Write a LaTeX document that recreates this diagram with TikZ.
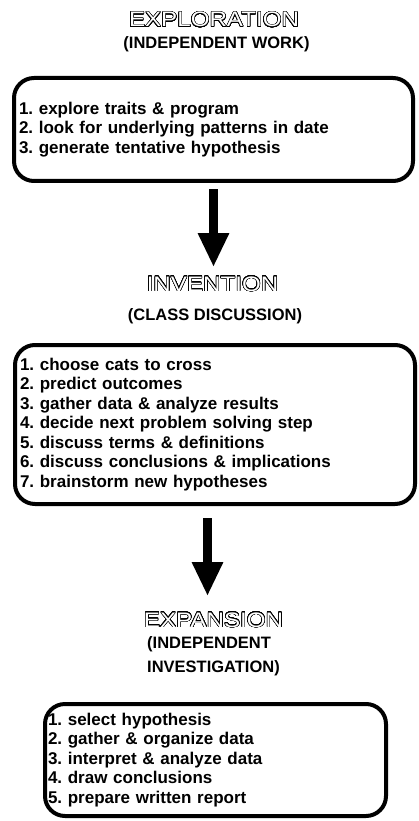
\documentclass[tikz,border=0pt]{standalone}
\usepackage{fontspec}
\setmainfont{Liberation Sans}
\usepackage[copies]{contour}
\usetikzlibrary{arrows.meta}
\contourlength{0.45pt}
\contournumber{32}
\frenchspacing

\newcommand{\stagename}[1]{\scalebox{1.15}[1]{\textcolor{white}{\contour{black}{#1}}}}

\begin{document}
\begin{tikzpicture}[x=1pt, y=-1pt,
        stage/.style={anchor=base, inner sep=0pt, font=\fontsize{21}{24}\selectfont},
        mode/.style={anchor=base, inner sep=0pt, font=\bfseries\fontsize{16.5}{24}\selectfont},
        stepbox/.style={draw, line width=4pt, rounded corners=20pt, align=left,
            inner ysep=0pt, inner xsep=5pt, font=\bfseries\fontsize{17}{19.5}\selectfont},
        bigarrow/.style={line width=9.5pt, -{Triangle[length=34pt, width=29pt]}}]
        \useasboundingbox (0,0) rectangle (418,821);

        \node[stage] (exploration) at (214, 27) {\stagename{EXPLORATION}};
        \node[mode] (work) at (216.5, 49) {(INDEPENDENT WORK)};
        \node[stepbox, text width=389pt, minimum height=103pt] (explore) at (213.5, 129.5)
            {1. explore traits \& program\\
             2. look for underlying patterns in date\\
             3. generate tentative hypothesis};

        \node[stage] (invention) at (212.5, 291) {\stagename{INVENTION}};
        \node[mode] (discussion) at (215, 320) {(CLASS DISCUSSION)};
        \node[stepbox, text width=390pt, minimum height=159pt] (invent) at (215, 424.5)
            {1. choose cats to cross\\
             2. predict outcomes\\
             3. gather data \& analyze results\\
             4. decide next problem solving step\\
             5. discuss terms \& definitions\\
             6. discuss conclusions \& implications\\
             7. brainstorm new hypotheses};

        \node[stage] (expansion) at (213.5, 627) {\stagename{EXPANSION}};
        \node[mode, align=left, anchor=west] (investigation) at (147, 656)
            {(INDEPENDENT\\INVESTIGATION)};
        \node[stepbox, inner xsep=3pt, text width=335pt, minimum height=112pt] (expand) at (215.5, 760)
            {1. select hypothesis\\
             2. gather \& organize data\\
             3. interpret \& analyze data\\
             4. draw conclusions\\
             5. prepare written report};

        \draw[bigarrow] ([yshift=-6pt]explore.south) -- ([yshift=9pt]explore.south |- invention.north);
        \draw[bigarrow] ([xshift=-7.5pt, yshift=-12pt]invent.south)
            -- ([xshift=-7.5pt, yshift=16pt]invent.south |- expansion.north);

    \end{tikzpicture}
\end{document}
